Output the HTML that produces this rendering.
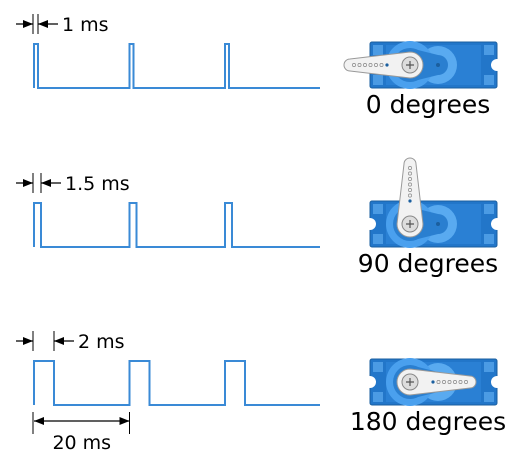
<!DOCTYPE html>
<html><head><meta charset="utf-8"><style>
html,body{margin:0;padding:0;background:#fff;}
svg{display:block;font-family:"DejaVu Sans","Liberation Sans",sans-serif;}
</style></head><body>
<svg id="chart" width="514" height="462" viewBox="0 0 514 462">
<defs>
<marker id="ah" viewBox="0 0 10 10" refX="10" refY="5" markerWidth="10" markerHeight="10" orient="auto-start-reverse" markerUnits="userSpaceOnUse"><path d="M0,1 L10,5 L0,9 z" fill="#000"/></marker>
</defs>
<g id="rows"></g>
</svg>
<script>
const pulseLabels = ["1 ms", "1.5 ms", "2 ms"];
const pulseMs = [1, 1.5, 2];
const angles = [0, 90, 180];
const angleLabels = ["0 degrees", "90 degrees", "180 degrees"];
const periodMs = 20;
const periodLabel = "20 ms";

const NS = "http://www.w3.org/2000/svg";
const root = document.getElementById('rows');
function el(tag, attrs, parent){const e=document.createElementNS(NS,tag);for(const k in attrs)e.setAttribute(k,attrs[k]);(parent||root).appendChild(e);return e;}

const x0 = 34, pxPerPeriod = 95.5, xEnd = 320;
const rowTop = [44, 203, 361], rowH = 44;
function pulsePx(ms){ return ms<=1 ? 4*ms : (ms<=1.5 ? 4+(ms-1)*6 : 7+(ms-1.5)*26); }
const bodyX = 370, bodyW = 127, bodyH = 46;

pulseMs.forEach((ms,i)=>{
  const g = el('g',{});
  
  
  const top = rowTop[i], bot = top+rowH, w = pulsePx(ms);
  let d = `M${x0},${bot} L${x0},${top}`;
  for(let k=0;k<3;k++){
    const s = x0 + k*pxPerPeriod;
    if(k>0) d += ` L${s},${bot} L${s},${top}`;
    d += ` L${s+w},${top} L${s+w},${bot}`;
  }
  d += ` L${xEnd},${bot}`;
  const wave = el('path',{d,fill:'none',stroke:'#3a8ad6','stroke-width':2},g);
  
  
  const ay = top - 20;
  el('line',{x1:x0-1,y1:ay-10,x2:x0-1,y2:ay+10,stroke:'#000','stroke-width':1},g);
  el('line',{x1:x0+w,y1:ay-10,x2:x0+w,y2:ay+10,stroke:'#000','stroke-width':1},g);
  el('line',{x1:16,y1:ay,x2:x0-1,y2:ay,stroke:'#000','stroke-width':1.3,'marker-end':'url(#ah)'},g);
  el('line',{x1:x0+w+20,y1:ay,x2:x0+w,y2:ay,stroke:'#000','stroke-width':1.3,'marker-end':'url(#ah)'},g);
  const t = el('text',{x:x0+w+24,y:ay+7,'font-size':19,fill:'#000'},g);
  t.textContent = pulseLabels[i];
  
  

  const by = top - 2, cx = bodyX+40, cy = by+bodyH/2;
  const sv = el('g',{},g);
  
  
  el('rect',{x:bodyX,y:by,width:bodyW,height:bodyH,rx:2,fill:'#2276c9',stroke:'#1b5f9f','stroke-width':1},sv);
  el('rect',{x:bodyX+16,y:by+3,width:bodyW-32,height:bodyH-6,fill:'#2a80d4'},sv);
  [[bodyX+3,by+3],[bodyX+3,by+bodyH-13],[bodyX+bodyW-13,by+3],[bodyX+bodyW-13,by+bodyH-13]].forEach(p=>el('rect',{x:p[0],y:p[1],width:10,height:10,fill:'#4b9be4'},sv));
  el('circle',{cx:bodyX+bodyW,cy:cy,r:6,fill:'#fff'},sv);
  el('circle',{cx:bodyX,cy:cy,r:6,fill:'#fff'},sv);
  el('circle',{cx:cx+28,cy:cy,r:19,fill:'#59aaf0'},sv);
  el('circle',{cx:cx,cy:cy,r:24,fill:'#4aa0ee'},sv);
  el('path',{d:`M${cx},${cy-17} L${cx+28},${cy-10} A10,10 0 0 1 ${cx+28},${cy+10} L${cx},${cy+17} z`,fill:'#2a7fd0'},sv);
  el('circle',{cx:cx,cy:cy,r:17,fill:'#2a7fd0'},sv);
  el('circle',{cx:cx+28,cy:cy,r:2,fill:'#1b5f9f'},sv);
  const arm = el('g',{transform:`translate(${cx},${cy}) rotate(${angles[i]})`},sv);
  
  
  el('path',{d:'M0,-13 L-60,-6 A6,6 0 0 0 -60,6 L0,13 A13,13 0 0 0 0,-13 z',fill:'#f2f2f2',stroke:'#999','stroke-width':1},arm);
  for(let h=0;h<7;h++) el('circle',{cx:-56+h*5.5,cy:0,r:1.6,fill:h==6?'#1b5f9f':'none',stroke:h==6?'none':'#888','stroke-width':0.7},arm);
  el('circle',{cx:0,cy:0,r:8,fill:'#ddd',stroke:'#888','stroke-width':1},arm);
  el('path',{d:'M-4,0 L4,0 M0,-4 L0,4',stroke:'#555','stroke-width':1.2},arm);
  const lab = el('text',{x:428,y:by+bodyH+25,'font-size':25,'text-anchor':'middle',fill:'#000'},g);
  lab.textContent = angleLabels[i];
  
  
});

const pg = el('g',{});


const px2 = x0 + pxPerPeriod*(periodMs/20);
el('line',{x1:x0-1,y1:412,x2:x0-1,y2:434,stroke:'#000','stroke-width':1},pg);
el('line',{x1:px2,y1:412,x2:px2,y2:434,stroke:'#000','stroke-width':1},pg);
el('line',{x1:x0,y1:421,x2:px2,y2:421,stroke:'#000','stroke-width':1.3,'marker-start':'url(#ah)','marker-end':'url(#ah)'},pg);
const pt = el('text',{x:(x0+px2)/2,y:449,'font-size':19,'text-anchor':'middle',fill:'#000'},pg);
pt.textContent = periodLabel;


</script>
</body></html>
